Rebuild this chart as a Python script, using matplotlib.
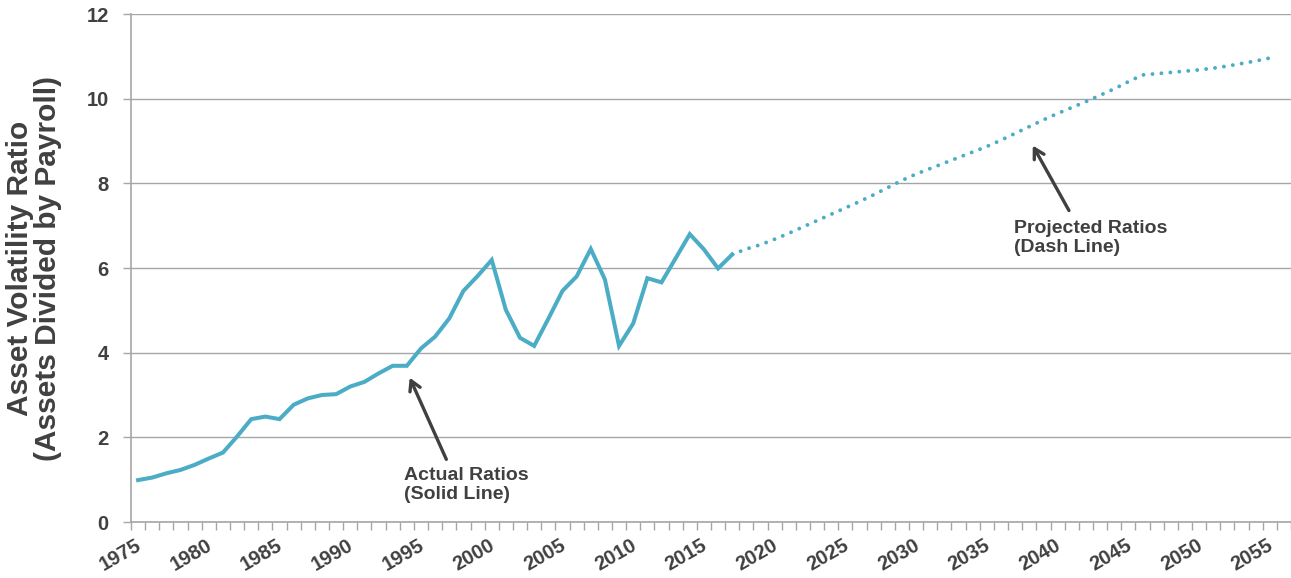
import matplotlib.pyplot as plt
import matplotlib.transforms as mtransforms
import numpy as np

plt.rcParams['font.family'] = ['Liberation Sans', 'DejaVu Sans']

actual_years = list(range(1975, 2018))
actual_ratio = [0.99, 1.05, 1.15, 1.23, 1.35, 1.50, 1.64, 2.02, 2.43, 2.49,
                2.43, 2.77, 2.92, 3.00, 3.02, 3.20, 3.31, 3.51, 3.69, 3.69,
                4.10, 4.38, 4.81, 5.46, 5.81, 6.19, 5.01, 4.35, 4.16, 4.80,
                5.46, 5.80, 6.45, 5.73, 4.16, 4.69, 5.76, 5.66, 6.23, 6.80,
                6.44, 5.99, 6.32]

projected_years = list(range(2017, 2056))
projected_ratio = [6.32, 6.45, 6.55, 6.68, 6.82, 6.97, 7.12, 7.27, 7.42, 7.57,
                   7.73, 7.90, 8.07, 8.22, 8.35, 8.48, 8.61, 8.74, 8.87, 9.02,
                   9.18, 9.34, 9.50, 9.65, 9.79, 9.93, 10.08, 10.23, 10.40, 10.56,
                   10.59, 10.62, 10.65, 10.68, 10.72, 10.77, 10.83, 10.89, 10.96]

label_years = list(range(1975, 2056, 5))
y_ticks = [0, 2, 4, 6, 8, 10, 12]

line_color = '#4BACC6'
text_color = '#404040'
grid_color = '#A6A6A6'


def main():
    fig = plt.figure(figsize=(12.91, 5.78), dpi=100)
    ax = fig.add_axes([131 / 1291, 1 - 522 / 578, 1 - 131 / 1291, 508 / 578])

    ax.plot(actual_years, actual_ratio, color=line_color, lw=2.9,
            solid_joinstyle='miter', zorder=3)
    ax.plot(projected_years, projected_ratio, color=line_color, lw=2.8,
            linestyle=(0, (0.01, 2.3)), dash_capstyle='round', zorder=3)

    ax.set_xlim(1974.5, 2056.36)
    ax.set_ylim(0, 12)

    ax.set_yticks(y_ticks)
    ax.grid(axis='y', color=grid_color, lw=1)
    ax.set_axisbelow(True)

    ax.set_xticks(label_years)
    ax.set_xticks(np.arange(1974.5, 2057, 1), minor=True)
    ax.tick_params(axis='x', which='major', length=0, pad=10)
    ax.tick_params(axis='x', which='minor', length=6, color=grid_color, width=1)
    ax.tick_params(axis='y', length=6, color=grid_color, width=1, pad=10)
    shift = mtransforms.ScaledTranslation(-3 / 100, 0, fig.dpi_scale_trans)
    for lab in ax.get_xticklabels():
        lab.set_rotation(30)
        lab.set_ha('right')
        lab.set_rotation_mode('anchor')
        lab.set_fontsize(14.5)
        lab.set_transform(lab.get_transform() + shift)
    for lab in ax.get_yticklabels():
        lab.set_fontsize(14.5)
    for lab in ax.get_xticklabels() + ax.get_yticklabels():
        lab.set_fontweight('bold')
        lab.set_color(text_color)

    for side in ['top', 'right']:
        ax.spines[side].set_visible(False)
    for side in ['left', 'bottom']:
        ax.spines[side].set_color(grid_color)
        ax.spines[side].set_linewidth(1.2)

    fig.text(34 / 1291, 1 - 268.5 / 578,
             'Asset Volatility Ratio\n(Assets Divided by Payroll)',
             rotation=90, ha='center', va='center', fontsize=21.5,
             fontweight='bold', color=text_color, linespacing=1.02)

    arrow_style = dict(arrowstyle='->,head_length=0.7,head_width=0.4',
                       color=text_color, lw=2.4)
    ax.annotate('', xy=(1994.12, 3.47), xytext=(1996.87, 1.42),
                arrowprops=arrow_style)
    ax.text(1993.83, 1.29, 'Actual Ratios\n(Solid Line)', fontsize=14,
            fontweight='bold', color=text_color, va='top', ha='left',
            linespacing=1.15)
    ax.annotate('', xy=(2038.15, 8.95), xytext=(2040.9, 7.3),
                arrowprops=arrow_style)
    ax.text(2036.9, 7.13, 'Projected Ratios\n(Dash Line)', fontsize=14,
            fontweight='bold', color=text_color, va='top', ha='left',
            linespacing=1.15)

    plt.savefig('out.png')
    return


if __name__ == '__main__':
    main()
